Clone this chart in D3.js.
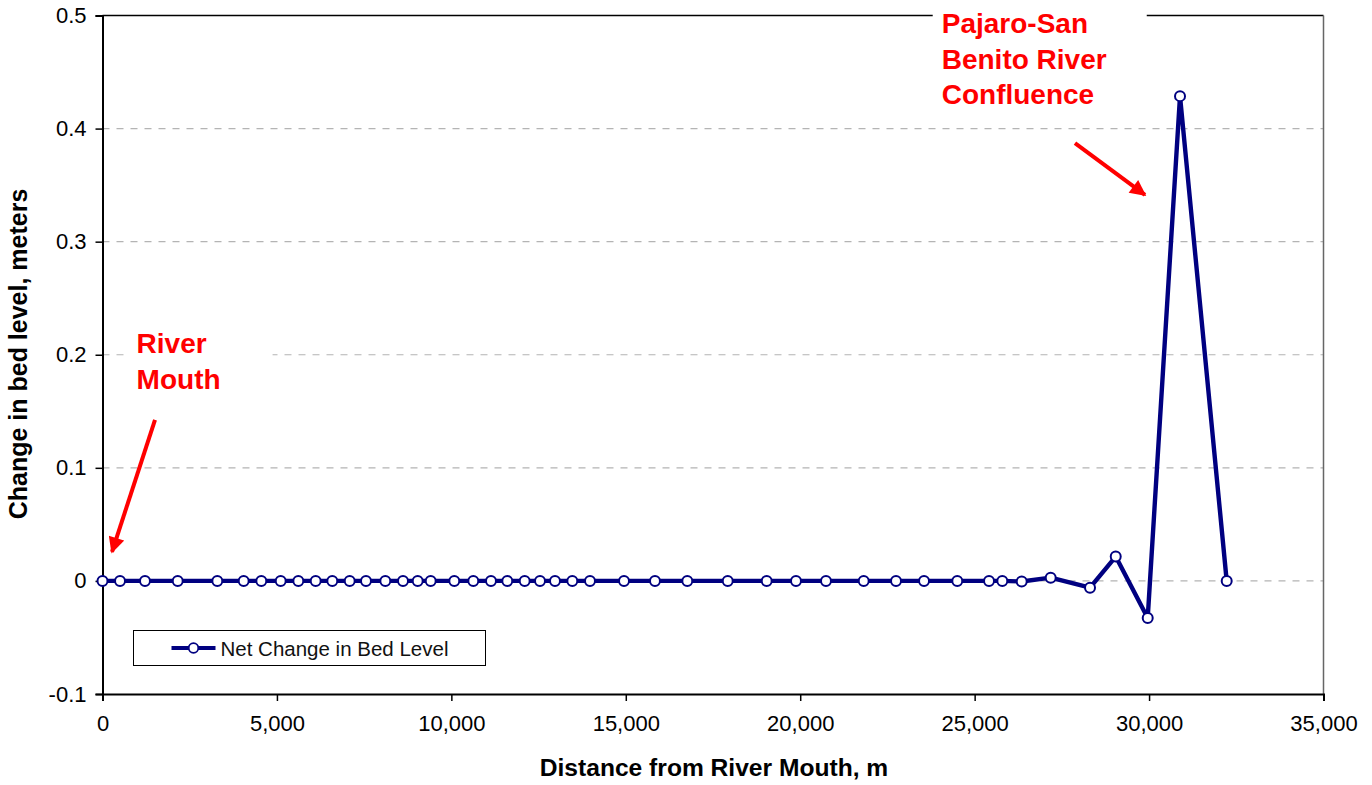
<!doctype html>
<html>
<head>
<meta charset="utf-8">
<title>Net Change in Bed Level</title>
<script src="https://d3js.org/d3.v7.min.js"></script>
<style>
  body { margin: 0; background: #fff; }
  text { font-family: Arial, "Liberation Sans", sans-serif; }
</style>
</head>
<body>
<div id="chart"></div>
<script>
// Distance from river mouth (m) and net change in bed level (m)
var distance = [0, 502, 1218, 2156, 3291, 4047, 4552, 5108, 5613, 6111, 6587, 7086,
  7553, 8107, 8614, 9035, 9408, 10084, 10629, 11136, 11603, 12102, 12541, 12971,
  13467, 13974, 14949, 15837, 16763, 17922, 19039, 19879, 20739, 21820, 22746,
  23549, 24502, 25412, 25793, 26349, 27180, 28307, 29044, 29961, 30887, 32225];
var change = [0, 0, 0, 0, 0, 0, 0, 0, 0, 0, 0, 0,
  0, 0, 0, 0, 0, 0, 0, 0, 0, 0, 0, 0,
  0, 0, 0, 0, 0, 0, 0, 0, 0, 0, 0,
  0, 0, 0, 0, -0.0005, 0.0029, -0.0060, 0.0215, -0.0327, 0.4287, 0];
var xTicks = [0, 5000, 10000, 15000, 20000, 25000, 30000, 35000];
var yTicks = [-0.1, 0, 0.1, 0.2, 0.3, 0.4, 0.5];
var seriesName = "Net Change in Bed Level";

// annotations in data units
var notes = [
  { lines: ["River", "Mouth"], x: 978, y: 0.2015, padR: 52, ax1: 1505, ay1: 0.1424, ax2: 272, ay2: 0.0257 },
  { lines: ["Pajaro-San", "Benito River", "Confluence"], x: 24056, y: 0.4843, padR: 40, ax1: 27876, ay1: 0.3872, ax2: 29883, ay2: 0.3413 }
];

var W = 1372, H = 785;
var mLeft = 102.5, mRight = 1323.5, mTop = 15.5, mBottom = 694;

var svg = d3.select("#chart").append("svg")
  .attr("width", W).attr("height", H);

var x = d3.scaleLinear().domain([0, 35000]).range([mLeft, mRight]);
var y = d3.scaleLinear().domain([-0.1, 0.5]).range([mBottom, mTop]);

svg.append("defs").append("marker")
  .attr("id", "head")
  .attr("viewBox", "0 0 10 10")
  .attr("refX", 9).attr("refY", 5)
  .attr("markerWidth", 4.5).attr("markerHeight", 4)
  .attr("markerUnits", "strokeWidth")
  .attr("orient", "auto")
  .append("path").attr("d", "M0,0L10,5L0,10Z").attr("fill", "#ff0000");

// gridlines
svg.append("g").selectAll("line")
  .data(yTicks.filter(function(d) { return d > -0.1 && d < 0.5; }))
  .enter().append("line")
  .attr("x1", mLeft).attr("x2", mRight)
  .attr("y1", function(d) { return y(d); })
  .attr("y2", function(d) { return y(d); })
  .attr("stroke", "#b4b4b4")
  .attr("stroke-width", 1.2)
  .attr("stroke-dasharray", "7,7");

// top and right border
svg.append("line").attr("x1", mLeft).attr("x2", mRight).attr("y1", mTop).attr("y2", mTop)
  .attr("stroke", "#000").attr("stroke-width", 1.5);
svg.append("line").attr("x1", mRight).attr("x2", mRight).attr("y1", mTop).attr("y2", mBottom)
  .attr("stroke", "#666").attr("stroke-width", 1.5);

// axes
var yAxis = svg.append("g")
  .attr("transform", "translate(" + mLeft + ",0)")
  .call(d3.axisLeft(y).tickValues(yTicks).tickSize(7).tickPadding(9)
    .tickFormat(function(d) { return d === 0 ? "0" : d.toFixed(1); }));
var xAxis = svg.append("g")
  .attr("transform", "translate(0," + mBottom + ")")
  .call(d3.axisBottom(x).tickValues(xTicks).tickSize(7).tickPadding(14)
    .tickFormat(d3.format(",")));

[xAxis, yAxis].forEach(function(a) {
  a.select(".domain").attr("stroke", "#000").attr("stroke-width", 2);
  a.selectAll(".tick line").attr("stroke", "#000").attr("stroke-width", 1.5);
  a.selectAll(".tick text").attr("fill", "#000")
    .style("font-size", "22px").style("font-family", "Arial, 'Liberation Sans', sans-serif");
});

// axis titles
svg.append("text")
  .attr("x", 714).attr("y", 776)
  .attr("text-anchor", "middle")
  .style("font-size", "24.6px").style("font-weight", "bold")
  .text("Distance from River Mouth, m");
svg.append("text")
  .attr("transform", "translate(27,354) rotate(-90)")
  .attr("text-anchor", "middle")
  .style("font-size", "25px").style("font-weight", "bold")
  .text("Change in bed level, meters");

// annotations
notes.forEach(function(n) {
  var g = svg.append("g");
  var bg = g.append("rect").attr("fill", "#fff");
  var t = g.append("text")
    .attr("x", x(n.x)).attr("y", y(n.y))
    .attr("fill", "#ff0000")
    .style("font-size", "28px").style("font-weight", "bold");
  t.selectAll("tspan").data(n.lines).enter().append("tspan")
    .attr("x", x(n.x))
    .attr("dy", function(d, i) { return i === 0 ? 0 : 35.5; })
    .text(function(d) { return d; });
  var b = t.node().getBBox();
  bg.attr("x", b.x - 9).attr("y", b.y - 4).attr("width", b.width + 9 + n.padR).attr("height", b.height + 6);
  svg.append("line")
    .attr("x1", x(n.ax1)).attr("y1", y(n.ay1))
    .attr("x2", x(n.ax2)).attr("y2", y(n.ay2))
    .attr("stroke", "#ff0000").attr("stroke-width", 4)
    .attr("marker-end", "url(#head)");
});

// series line + markers
var line = d3.line()
  .x(function(d, i) { return x(distance[i]); })
  .y(function(d) { return y(d); });

svg.append("path")
  .datum(change)
  .attr("d", line)
  .attr("fill", "none")
  .attr("stroke", "#000080")
  .attr("stroke-width", 4.4)
  .attr("stroke-linejoin", "round");

svg.append("g").selectAll("circle")
  .data(change)
  .enter().append("circle")
  .attr("cx", function(d, i) { return x(distance[i]); })
  .attr("cy", function(d) { return y(d); })
  .attr("r", 5)
  .attr("fill", "#fff")
  .attr("stroke", "#000080")
  .attr("stroke-width", 2);

// legend
var lg = svg.append("g").attr("transform", "translate(133.5,630.5)");
lg.append("rect").attr("width", 352).attr("height", 35)
  .attr("fill", "#fff").attr("stroke", "#000").attr("stroke-width", 1);
lg.append("line").attr("x1", 38).attr("x2", 82).attr("y1", 17.5).attr("y2", 17.5)
  .attr("stroke", "#000080").attr("stroke-width", 4);
lg.append("circle").attr("cx", 60).attr("cy", 17.5).attr("r", 4.8)
  .attr("fill", "#fff").attr("stroke", "#000080").attr("stroke-width", 1.8);
lg.append("text").attr("x", 87).attr("y", 25)
  .style("font-size", "20.5px").attr("fill", "#111")
  .text(seriesName);
</script>
</body>
</html>
